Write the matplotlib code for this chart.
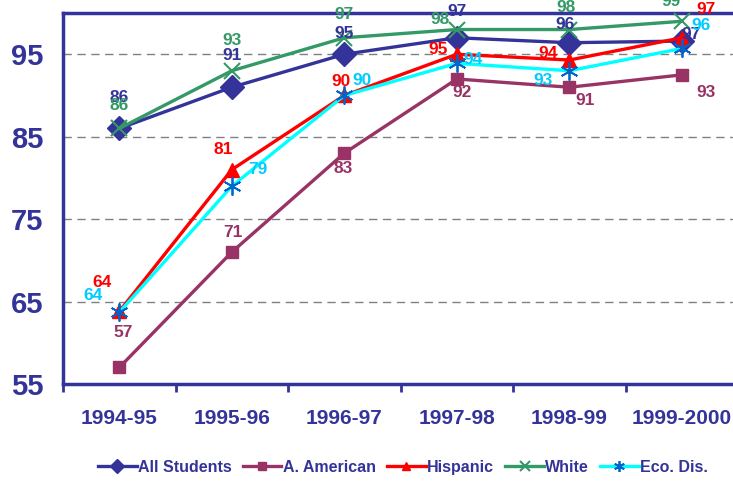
import matplotlib
matplotlib.use("Agg")
import matplotlib.pyplot as plt
from matplotlib.lines import Line2D
from matplotlib import font_manager

names = {f.name for f in font_manager.fontManager.ttflist}
HAS_NARROW = 'Liberation Sans Narrow' in names

plt.rcParams['font.family'] = ['Liberation Sans', 'DejaVu Sans']
plt.rcParams['font.weight'] = 'bold'

years = ["1994-95", "1995-96", "1996-97", "1997-98", "1998-99", "1999-2000"]
all_students = [86, 91, 95, 97, 96.4, 96.6]
all_labels = [86, 91, 95, 97, 96, 97]
afr_american = [57, 71, 83, 92, 91, 92.5]
afr_labels = [57, 71, 83, 92, 91, 93]
hispanic = [63.8, 81, 90, 95, 94.3, 97]
hisp_labels = [64, 81, 90, 95, 94, 97]
white = [86, 93, 97, 98, 98, 99]
white_labels = [86, 93, 97, 98, 98, 99]
eco_dis = [63.7, 79, 90, 93.9, 93, 95.7]
eco_labels = [64, 79, 90, 94, 93, 96]
yticks = [55, 65, 75, 85, 95]

if HAS_NARROW:
    fam = ['Liberation Sans Narrow', 'Liberation Sans', 'DejaVu Sans']
    fs_data, fs_y, fs_x, fs_leg = 14, 23, 17, 14
else:
    fam = ['Liberation Sans', 'DejaVu Sans']
    fs_data, fs_y, fs_x, fs_leg = 12.5, 21, 15, 11.5

navy = '#333399'
series = [
    dict(name="All Students", y=all_students, lab=all_labels, color=navy, mcolor=navy,
         marker='D', ms=12, mew=1,
         off=[(0, 31), (0, 32), (0, 21), (0, 26), (-4, 18), (9, 7)]),
    dict(name="A. American", y=afr_american, lab=afr_labels, color='#993366', mcolor='#993366',
         marker='s', ms=9, mew=1,
         off=[(4, 35), (1, 20), (-1, -15), (5, -14), (16, -13), (24, -18)]),
    dict(name="Hispanic", y=hispanic, lab=hisp_labels, color='#ff0000', mcolor='#ff0000',
         marker='^', ms=10, mew=1,
         off=[(-17, 29), (-9, 20), (-3, 14), (-19, 5), (-21, 7), (24, 28)]),
    dict(name="White", y=white, lab=white_labels, color='#339966', mcolor='#339966',
         marker='x', ms=11, mew=1.5,
         off=[(0, 23), (0, 30), (0, 23), (-17, 10), (-3, 22), (-11, 20)]),
    dict(name="Eco. Dis.", y=eco_dis, lab=eco_labels, color='#00ffff', mcolor='#0066cc',
         marker=(6, 2, 0), ms=13, mew=1.3,
         off=[(-26, 17), (26, 17), (18, 15), (16, 4), (-26, -10), (19, 23)]),
]

fig = plt.figure(figsize=(7.33, 4.83), dpi=100)
ax = fig.add_axes([0.086, 0.205, 0.921, 0.768])
x = list(range(len(years)))

for i, s in enumerate(series):
    ax.plot(x, s['y'], color=s['color'], lw=2.4, zorder=3 + i,
            marker=s['marker'], ms=s['ms'], mfc=s['mcolor'], mec=s['mcolor'], mew=s['mew'],
            clip_on=False)
    for xi, yi, lab, (dx, dy) in zip(x, s['y'], s['lab'], s['off']):
        ax.annotate(str(lab), (xi, yi), xytext=(dx, dy), textcoords='offset pixels',
                    ha='center', va='center', fontsize=fs_data, fontweight='bold',
                    family=fam,
                    color=s['color'] if s['name'] != "Eco. Dis." else '#00ccff',
                    zorder=20, annotation_clip=False)

ax.set_xlim(-0.5, 5.5)
ax.set_ylim(55, 100)
ax.set_yticks(yticks)
ax.set_yticklabels([str(v) for v in yticks], fontsize=fs_y, fontweight='bold', color=navy,
                   family=fam)
ax.tick_params(axis='y', length=0, pad=14)
ax.set_xticks(x)
ax.set_xticklabels(years, fontsize=fs_x, fontweight='bold', color=navy, family=fam)
ax.tick_params(axis='x', length=0, pad=18)
ax.set_xticks([i - 0.5 for i in range(len(years) + 1)], minor=True)
ax.tick_params(axis='x', which='minor', length=6, width=2, color=navy, direction='out')
for yv in yticks[1:]:
    ax.axhline(yv, color='#808080', lw=1, ls=(0, (6, 4)), zorder=1)

for sp in ax.spines.values():
    sp.set_color(navy)
    sp.set_linewidth(2.5)

handles = [Line2D([0], [0], color=s['color'], lw=2.4, marker=s['marker'],
                  ms=s['ms'] * 0.6, mfc=s['mcolor'], mec=s['mcolor'], mew=s['mew'])
           for s in series]
fig.legend(handles, [s['name'] for s in series], loc='center', bbox_to_anchor=(0.55, 0.033),
           ncol=5, frameon=False, handlelength=2.4, handletextpad=0.1, columnspacing=0.7,
           prop=dict(size=fs_leg, weight='bold', family=fam), labelcolor=navy)

fig.savefig('out.png', dpi=100)
